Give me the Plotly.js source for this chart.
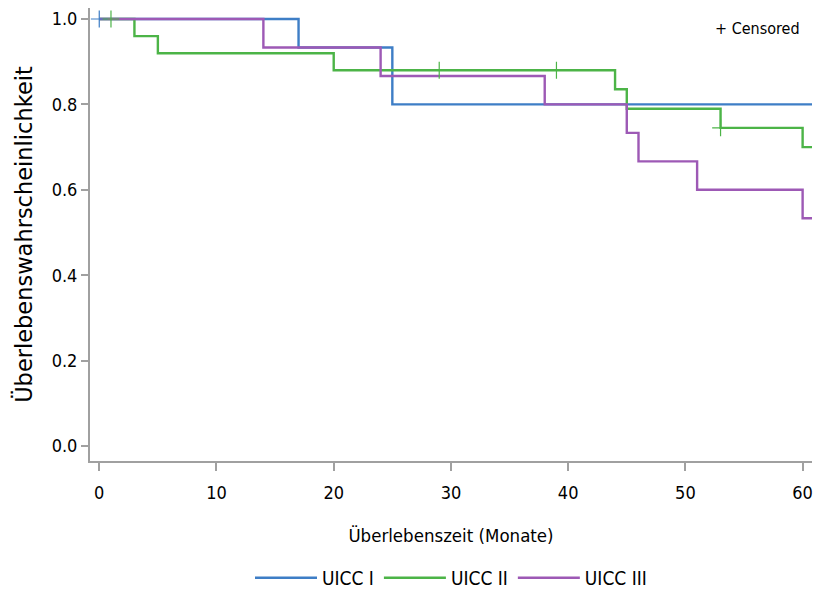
<!DOCTYPE html>
<html>
<head>
<meta charset="utf-8">
<script src="https://cdn.plot.ly/plotly-3.0.1.min.js"></script>
<style>html,body{margin:0;padding:0;background:#fff;}#chart{width:814px;height:594px;}</style>
</head>
<body>
<div id="chart"></div>
<script>
// Kaplan-Meier step data (time in months, survival probability)
const seriesNames = ["UICC I", "UICC II", "UICC III"];
const colors = ["#3e7ec6", "#4cb447", "#9d59b5"];

const timeI = [0, 17, 25, 60.8];
const survI = [1.0, 0.9333, 0.8, 0.8];
const censTimeI = [0];
const censSurvI = [1.0];

const timeII = [0, 3, 5, 20, 44, 45, 53, 60, 60.8];
const survII = [1.0, 0.96, 0.92, 0.88, 0.8355, 0.79, 0.745, 0.70, 0.70];
const censTimeII = [1, 29, 39, 53];
const censSurvII = [1.0, 0.88, 0.88, 0.745];

const timeIII = [0, 14, 24, 38, 45, 46, 51, 60, 60.8];
const survIII = [1.0, 0.9333, 0.8667, 0.8, 0.7333, 0.6667, 0.6, 0.5333, 0.5333];
const censTimeIII = [];
const censSurvIII = [];

const xTicks = [0, 10, 20, 30, 40, 50, 60];
const yTicks = [0.0, 0.2, 0.4, 0.6, 0.8, 1.0];
const yTickText = ["0.0", "0.2", "0.4", "0.6", "0.8", "1.0"];

const times = [timeI, timeII, timeIII];
const survs = [survI, survII, survIII];
const censT = [censTimeI, censTimeII, censTimeIII];
const censS = [censSurvI, censSurvII, censSurvIII];

const traces = [];
for (let i = 0; i < 3; i++) {
  traces.push({
    x: times[i], y: survs[i], type: "scatter", mode: "lines",
    line: {shape: "hv", color: colors[i], width: 2.4},
    name: seriesNames[i], showlegend: true, hoverinfo: "skip"
  });
}
for (let i = 0; i < 3; i++) {
  traces.push({
    x: censT[i], y: censS[i], type: "scatter", mode: "markers",
    marker: {symbol: "cross-thin-open", size: 12, color: colors[i], line: {color: colors[i], width: 1.2}},
    showlegend: false, hoverinfo: "skip"
  });
}

const condFont = "DejaVu Sans Condensed, DejaVu Sans";
const axisFont = {family: condFont, size: 18, color: "#000"};
const layout = {
  width: 814, height: 594,
  margin: {l: 90, r: 2, t: 8, b: 133},
  paper_bgcolor: "#fff", plot_bgcolor: "#fff",
  showlegend: true,
  xaxis: {
    range: [-0.79, 60.8], tickvals: xTicks, ticks: "outside", ticklen: 8, tickwidth: 2,
    tickcolor: "#a0a0a0", showline: true, linecolor: "#a0a0a0", linewidth: 2,
    showgrid: false, zeroline: false, tickfont: axisFont, automargin: false, ticklabelstandoff: 6,
    title: {text: "Überlebenszeit (Monate)", font: {family: condFont, size: 18.5, color: "#000"}, standoff: 27}
  },
  yaxis: {
    range: [-0.0351, 1.0258], tickvals: yTicks, ticktext: yTickText, ticks: "outside", ticklen: 7, tickwidth: 2,
    tickcolor: "#a0a0a0", showline: true, linecolor: "#a0a0a0", linewidth: 2,
    showgrid: false, zeroline: false, tickfont: axisFont, automargin: false,
    title: {text: "Überlebenswahrscheinlichkeit", font: {family: "DejaVu Sans", size: 22.5, color: "#000"}, standoff: 13}
  },
  legend: {
    orientation: "h", x: 0.5, xanchor: "center", xref: "paper", yref: "container", y: 0.027, yanchor: "middle",
    font: {family: condFont, size: 19, color: "#000"}, itemwidth: 62,
    traceorder: "normal"
  },
  annotations: [{
    xref: "paper", yref: "paper", x: 0.986, y: 0.954, xanchor: "right", yanchor: "middle",
    text: "+ Censored", showarrow: false, font: {family: condFont, size: 16, color: "#000"}
  }]
};

Plotly.newPlot("chart", traces, layout, {displayModeBar: false, staticPlot: true});
</script>
</body>
</html>
